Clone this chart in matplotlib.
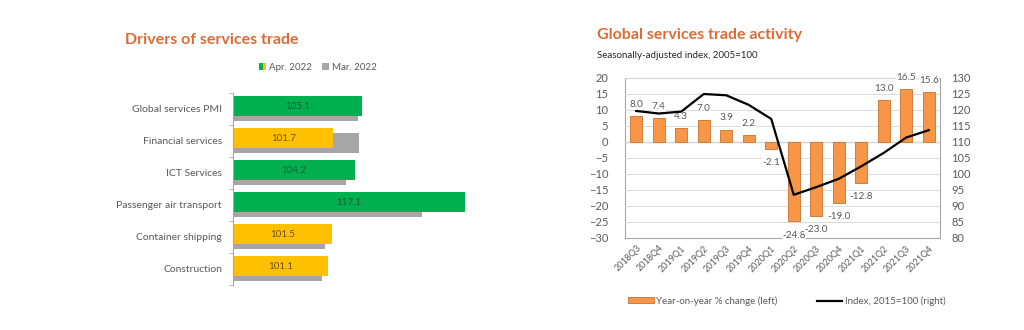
import matplotlib
matplotlib.use("Agg")
import matplotlib.pyplot as plt
import numpy as np
from matplotlib.patches import Patch
from matplotlib.lines import Line2D
from matplotlib.legend_handler import HandlerTuple

plt.rcParams['font.family'] = ['Lato', 'DejaVu Sans']

# ---- Left chart data ----
drivers = ["Global services PMI", "Financial services", "ICT Services",
           "Passenger air transport", "Container shipping", "Construction"]
apr_2022 = [105.1, 101.7, 104.2, 117.1, 101.5, 101.1]
mar_2022 = [104.6, 104.7, 103.2, 112.1, 100.7, 100.4]
apr_colors = ["#00B050", "#FFC000", "#00B050", "#00B050", "#FFC000", "#FFC000"]

# ---- Right chart data ----
quarters = ["2018Q3", "2018Q4", "2019Q1", "2019Q2", "2019Q3", "2019Q4", "2020Q1",
            "2020Q2", "2020Q3", "2020Q4", "2021Q1", "2021Q2", "2021Q3", "2021Q4"]
yoy_change = [8.0, 7.4, 4.3, 7.0, 3.9, 2.2, -2.1, -24.8, -23.0, -19.0, -12.8, 13.0, 16.5, 15.6]
index_2015 = [119.7, 118.9, 119.5, 125.0, 124.6, 121.6, 117.2, 93.5, 95.9, 98.5,
              102.4, 106.6, 111.4, 113.7]

TITLE_C = "#DD6B36"
GRAY_T = "#595959"

fig = plt.figure(figsize=(10.24, 3.30), dpi=100)

# ================= Left chart =================
ax1 = fig.add_axes([233/1024, 1-285/330, 240/1024, 192/330])
n = len(drivers)
ypos = np.arange(n)
base = 90
ax1.barh(ypos + 0.07, np.array(mar_2022) - base, left=base, height=0.62,
         color="#A6A6A6", zorder=1)
ax1.barh(ypos - 0.09, np.array(apr_2022) - base, left=base, height=0.62,
         color=apr_colors, zorder=2)
for i, v in enumerate(apr_2022):
    c = "#1E5E2E" if apr_colors[i] == "#00B050" else "#6B5200"
    ax1.text(base + (v - base) / 2, i - 0.09, f"{v:.1f}", ha="center", va="center",
             fontsize=7, color=c, zorder=3)
ax1.set_xlim(base, 118)
ax1.set_ylim(n - 0.5, -0.5)
ax1.set_yticks(ypos)
ax1.set_yticklabels(drivers, fontsize=7.5, color=GRAY_T)
ax1.tick_params(axis="y", length=0, pad=8)
ax1.set_yticks(np.arange(-0.5, n, 1), minor=True)
ax1.tick_params(axis="y", which="minor", length=3, color="#A6A6A6")
ax1.set_xticks([])
for s in ["top", "right", "bottom"]:
    ax1.spines[s].set_visible(False)
ax1.spines["left"].set_color("#A6A6A6")

fig.text(125/1024, 1-40/330, "Drivers of services trade", fontsize=11.5,
         fontweight="bold", color=TITLE_C, va="center", ha="left")

apr_handle = (Patch(facecolor="#00B050", edgecolor="none"),
              Patch(facecolor="#FFC000", edgecolor="none"))
mar_handle = Patch(facecolor="#A6A6A6", edgecolor="none")
fig.legend([apr_handle, mar_handle], ["Apr. 2022", "Mar. 2022"],
           handler_map={tuple: HandlerTuple(ndivide=None, pad=0)},
           loc="center", bbox_to_anchor=(318/1024, 1-67/330), ncol=2,
           frameon=False, fontsize=7, labelcolor=GRAY_T,
           handlelength=0.7, handleheight=0.7, handletextpad=0.3, columnspacing=1.0)

# ================= Right chart =================
ax2 = fig.add_axes([625/1024, 1-238/330, 315/1024, 160/330])
x = np.arange(len(quarters))
ax2.bar(x, yoy_change, width=0.55, color="#F79646", edgecolor="#C9712F",
        linewidth=0.6, zorder=2)
ax2.set_xlim(-0.5, len(quarters) - 0.5)
ax2.set_ylim(-30, 20)
ax2.set_yticks(np.arange(-30, 21, 5))
ax2.grid(axis="y", color="#D9D9D9", linewidth=0.7, zorder=0)
ax2.axhline(0, color="#A6A6A6", linewidth=0.9, zorder=1)
ax2.tick_params(axis="y", length=0, labelsize=8, labelcolor=GRAY_T, pad=12)
ax2.set_xticks(x)
ax2.set_xticklabels(quarters, rotation=45, ha="right", rotation_mode="anchor",
                    fontsize=6.5, color=GRAY_T)
ax2.tick_params(axis="x", length=0, pad=4)
for s in ax2.spines.values():
    s.set_color("#A6A6A6")
    s.set_linewidth(0.8)
    s.set_zorder(0.5)

for xi, v in zip(x, yoy_change):
    off = 3.6 if v >= 0 else -4.3
    ax2.text(xi, v + off, f"{v:.1f}", ha="center",
             va="center", fontsize=7.2, color=GRAY_T, zorder=4,
             bbox=dict(boxstyle="square,pad=0.02", facecolor="white",
                       edgecolor="none"), clip_on=False)

ax3 = ax2.twinx()
ax3.plot(x, index_2015, color="black", linewidth=1.6, zorder=5)
ax3.set_ylim(80, 130)
ax3.set_yticks(np.arange(80, 131, 5))
ax3.tick_params(axis="y", length=0, labelsize=8, labelcolor=GRAY_T, pad=8)
for s in ax3.spines.values():
    s.set_visible(False)
ax3.patch.set_visible(False)

fig.text(597/1024, 1-35/330, "Global services trade activity", fontsize=11.5,
         fontweight="bold", color=TITLE_C, va="center", ha="left")
fig.text(597/1024, 1-56/330, "Seasonally-adjusted index, 2005=100", fontsize=7,
         color="#262626", va="center", ha="left")

h1 = Patch(facecolor="#F79646", edgecolor="#C9712F", linewidth=0.6)
h2 = Line2D([0], [0], color="black", linewidth=1.6)
fig.legend([h1, h2], ["Year-on-year % change (left)", "Index, 2015=100 (right)"],
           loc="center", bbox_to_anchor=(787/1024, 1-301/330), ncol=2,
           frameon=False, fontsize=7, labelcolor=GRAY_T,
           handlelength=2.6, handleheight=0.6, handletextpad=0.3, columnspacing=4.0)

fig.savefig("out.png", dpi=100, facecolor="white")
